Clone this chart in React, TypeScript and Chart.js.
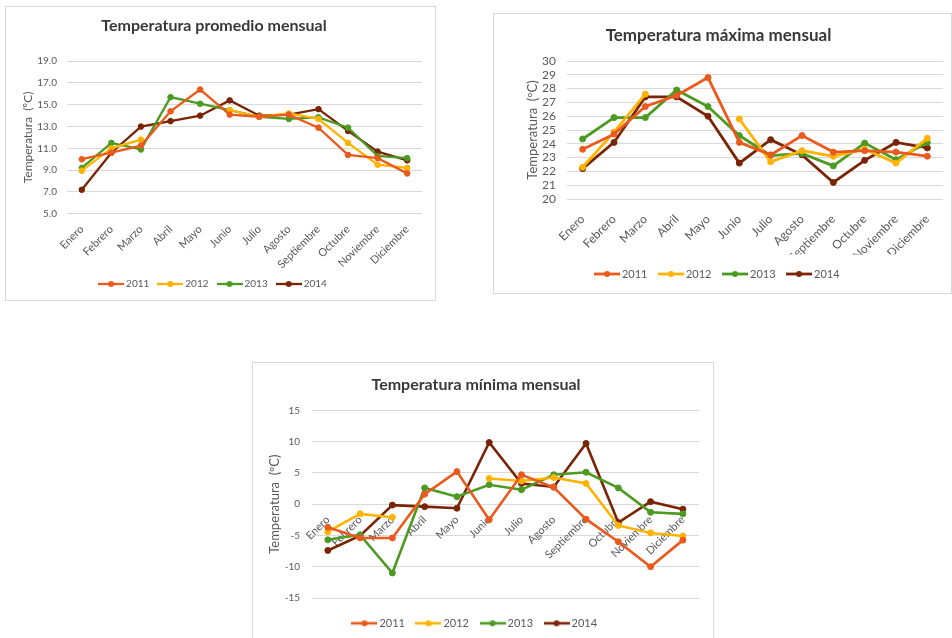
import { useEffect, useRef } from 'react';
import { Chart, registerables } from 'chart.js';

Chart.register(...registerables);
Chart.defaults.font.family = 'Lato, "Open Sans", sans-serif';

// Categories and series names
const months = ['Enero', 'Febrero', 'Marzo', 'Abril', 'Mayo', 'Junio', 'Julio', 'Agosto', 'Septiembre', 'Octubre', 'Noviembre', 'Diciembre'];
const years = ['2011', '2012', '2013', '2014'];
const yearColors = ['#EA5A1D', '#FFB300', '#4C9A22', '#7A2406'];

// Temperatura promedio mensual (°C)
const promedio2011 = [10.0, 10.6, 11.25, 14.4, 16.4, 14.1, 13.9, 14.1, 12.9, 10.4, 10.1, 8.7];
const promedio2012 = [8.95, 11.0, 11.8, null, null, 14.5, 13.9, 14.2, 13.7, 11.5, 9.5, 9.2];
const promedio2013 = [9.2, 11.5, 10.9, 15.7, 15.1, 14.5, 13.9, 13.7, 13.85, 12.9, 10.3, 10.1];
const promedio2014 = [7.2, 10.6, 13.0, 13.5, 14.0, 15.4, 14.0, 14.1, 14.6, 12.6, 10.7, 9.9];

// Temperatura máxima mensual (°C)
const maxima2011 = [23.6, 24.7, 26.7, 27.5, 28.8, 24.1, 23.2, 24.6, 23.4, 23.5, 23.4, 23.1];
const maxima2012 = [22.3, 24.85, 27.6, null, null, 25.8, 22.7, 23.5, 23.1, 23.6, 22.6, 24.4];
const maxima2013 = [24.35, 25.9, 25.9, 27.9, 26.7, 24.6, 23.15, 23.3, 22.4, 24.05, 22.85, 24.1];
const maxima2014 = [22.2, 24.1, 27.4, 27.4, 26.0, 22.6, 24.3, 23.2, 21.2, 22.8, 24.1, 23.7];

// Temperatura mínima mensual (°C)
const minima2011 = [-3.7, -5.4, -5.4, 1.6, 5.2, -2.5, 4.7, 2.7, -2.4, -6.0, -10.0, -5.75];
const minima2012 = [-4.4, -1.55, -2.1, null, null, 4.1, 3.7, 4.25, 3.3, -3.4, -4.6, -5.1];
const minima2013 = [-5.7, -4.9, -11.0, 2.6, 1.2, 3.1, 2.3, 4.7, 5.1, 2.6, -1.3, -1.55];
const minima2014 = [-7.4, -5.05, -0.15, -0.4, -0.65, 9.85, 3.3, 2.75, 9.7, -2.95, 0.4, -0.8];

// Y-axis ticks
const promedioTicks = { min: 5, max: 19, step: 2, decimals: 1 };
const maximaTicks = { min: 20, max: 30, step: 1, decimals: 0 };
const minimaTicks = { min: -15, max: 15, step: 5, decimals: 0 };

const yTitle = 'Temperatura  (ºC)';

type Panel = {
  title: string;
  series: (number | null)[][];
  ticks: { min: number; max: number; step: number; decimals: number };
  box: { left: number; top: number; width: number; height: number };
  titleSize: number;
  titlePad: { top: number; bottom: number };
  yWidth: number;
  yTickSize: number;
  yTickPad: number;
  yTitleSize: number;
  yTitlePad: number;
  xTickSize: number;
  xTickPad: number;
  xHeight: number;
  xAtZero: boolean;
  legendSize: number;
  legendPad: number;
  legendBoxW: number;
  padRight: number;
  padBottom: number;
  lineWidth: number;
  pointRadius: number;
};

const panels: Panel[] = [
  {
    title: 'Temperatura promedio mensual',
    series: [promedio2011, promedio2012, promedio2013, promedio2014],
    ticks: promedioTicks,
    box: { left: 5, top: 6, width: 431, height: 295 },
    titleSize: 16, titlePad: { top: 9, bottom: 26 },
    yWidth: 61, yTickSize: 10, yTickPad: 10, yTitleSize: 12, yTitlePad: 15,
    xTickSize: 11, xTickPad: 9, xHeight: 54.3, xAtZero: false,
    legendSize: 10, legendPad: 11, legendBoxW: 20,
    padRight: 13, padBottom: 1, lineWidth: 2.3, pointRadius: 2.8,
  },
  {
    title: 'Temperatura máxima mensual',
    series: [maxima2011, maxima2012, maxima2013, maxima2014],
    ticks: maximaTicks,
    box: { left: 493, top: 13, width: 459, height: 281 },
    titleSize: 17, titlePad: { top: 11.8, bottom: 14.8 },
    yWidth: 73, yTickSize: 12, yTickPad: 11, yTitleSize: 13, yTitlePad: 31,
    xTickSize: 12, xTickPad: 13, xHeight: 55.5, xAtZero: false,
    legendSize: 11, legendPad: 14, legendBoxW: 19,
    padRight: 8, padBottom: 3.5, lineWidth: 2.8, pointRadius: 3,
  },
  {
    title: 'Temperatura mínima mensual',
    series: [minima2011, minima2012, minima2013, minima2014],
    ticks: minimaTicks,
    box: { left: 252, top: 362, width: 462, height: 290 },
    titleSize: 16, titlePad: { top: 12.4, bottom: 15.7 },
    yWidth: 58.7, yTickSize: 10, yTickPad: 11.7, yTitleSize: 13, yTitlePad: 14.2,
    xTickSize: 11, xTickPad: 9, xHeight: 5.8, xAtZero: true,
    legendSize: 11, legendPad: 14, legendBoxW: 19,
    padRight: 14, padBottom: 12.2, lineWidth: 2.6, pointRadius: 3,
  },
];

// Legend marker: a short line with a dot in the middle
function legendMarker(color: string, lineWidth: number): HTMLCanvasElement {
  const c = document.createElement('canvas');
  c.width = 26;
  c.height = 8;
  const g = c.getContext('2d')!;
  g.strokeStyle = color;
  g.lineWidth = lineWidth;
  g.beginPath();
  g.moveTo(0, 4);
  g.lineTo(26, 4);
  g.stroke();
  g.fillStyle = color;
  g.beginPath();
  g.arc(13, 4, 3, 0, Math.PI * 2);
  g.fill();
  return c;
}

function TempChart({ p }: { p: Panel }) {
  const ref = useRef<HTMLCanvasElement>(null);
  const cw = p.box.width - 2;
  const ch = p.box.height - 2;

  useEffect(() => {
    if (!ref.current) return;
    const markers = yearColors.map((c) => legendMarker(c, p.lineWidth));
    const scales: any = {
      x: {
        type: 'category',
        axis: 'x',
        offset: true,
        position: p.xAtZero ? { y: 0 } : 'bottom',
        grid: { display: false, drawTicks: false },
        border: { display: false },
        ticks: {
          autoSkip: false,
          minRotation: 45,
          maxRotation: 45,
          padding: p.xTickPad,
          color: '#595959',
          font: { size: p.xTickSize },
        },
        afterFit: (s: any) => {
          if (!p.xAtZero) s.height = p.xHeight;
        },
      },
      y: {
        min: p.ticks.min,
        max: p.ticks.max,
        grid: { color: '#d9d9d9', lineWidth: 1, drawTicks: false },
        border: { display: false },
        ticks: {
          stepSize: p.ticks.step,
          autoSkip: false,
          padding: p.yTickPad,
          color: '#595959',
          font: { size: p.yTickSize },
          callback: (v: any) => Number(v).toFixed(p.ticks.decimals),
        },
        title: {
          display: true,
          text: yTitle,
          color: '#595959',
          font: { size: p.yTitleSize },
          padding: { top: p.yTitlePad, bottom: 0 },
        },
        afterFit: (s: any) => {
          s.width = p.yWidth;
        },
      },
    };
    if (p.xAtZero) {
      // empty spacer axis that keeps room between the plot and the legend
      scales.gap = {
        type: 'category',
        axis: 'x',
        labels: months,
        position: 'bottom',
        grid: { display: false },
        border: { display: false },
        ticks: { display: false },
        afterFit: (s: any) => {
          s.height = p.xHeight;
        },
      };
    }

    const chart = new Chart(ref.current, {
      type: 'line',
      data: {
        labels: months,
        datasets: years.map((y, i) => ({
          label: y,
          data: p.series[i],
          xAxisID: 'x',
          borderColor: yearColors[i],
          backgroundColor: yearColors[i],
          pointBackgroundColor: yearColors[i],
          pointBorderColor: yearColors[i],
          borderWidth: p.lineWidth,
          pointRadius: p.pointRadius,
          pointBorderWidth: 1,
          tension: 0,
          spanGaps: false,
        })),
      },
      options: {
        responsive: false,
        animation: false,
        events: [],
        layout: { padding: { left: 0, right: p.padRight, top: 0, bottom: p.padBottom } },
        scales,
        plugins: {
          title: {
            display: true,
            text: p.title,
            color: '#383838',
            font: { size: p.titleSize, weight: 'bold' },
            padding: p.titlePad,
          },
          legend: {
            position: 'bottom',
            labels: {
              usePointStyle: true,
              pointStyleWidth: p.legendBoxW,
              padding: p.legendPad,
              color: '#595959',
              font: { size: p.legendSize },
              generateLabels: (c: any) =>
                Chart.defaults.plugins.legend.labels
                  .generateLabels(c)
                  .map((l: any, i: number) => ({ ...l, pointStyle: markers[i] })),
            },
          },
          tooltip: { enabled: false },
        },
      } as any,
    });
    return () => chart.destroy();
  }, [p]);

  return (
    <div
      style={{
        position: 'absolute',
        left: p.box.left,
        top: p.box.top,
        width: p.box.width,
        height: p.box.height,
        boxSizing: 'border-box',
        border: '1px solid #d9d9d9',
        background: '#fff',
      }}
    >
      <canvas ref={ref} width={cw} height={ch} style={{ display: 'block', width: cw, height: ch }} />
    </div>
  );
}

export default function App() {
  return (
    <div
      style={{
        position: 'absolute',
        left: 0,
        top: 0,
        width: 952,
        height: 638,
        overflow: 'hidden',
        background: '#fff',
      }}
    >
      {panels.map((p) => (
        <TempChart key={p.title} p={p} />
      ))}
    </div>
  );
}
